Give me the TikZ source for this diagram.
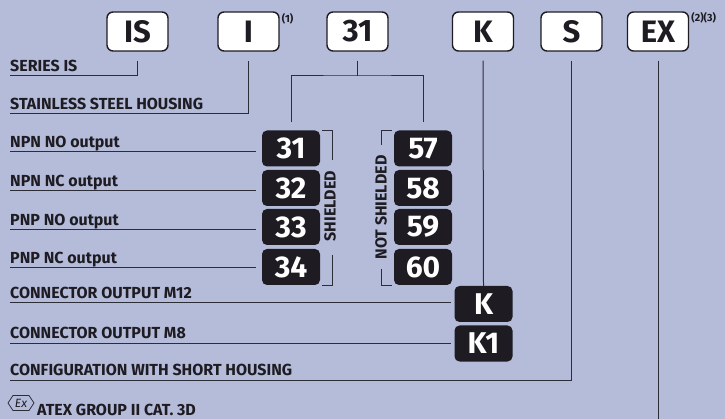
\documentclass[tikz,border=0pt]{standalone}
\usepackage{fontspec}
\setmainfont{Fira Sans}
\definecolor{panel}{RGB}{181,188,218}
\definecolor{ink}{RGB}{30,28,34}
\definecolor{rule}{RGB}{45,45,55}

\begin{document}
\begin{tikzpicture}[x=1pt,y=1pt]
\tikzstyle{every node}+=[inner sep=0pt]
\tikzstyle{topbox}=[draw=ink, line width=1.4pt, fill=white, rounded corners=6pt, minimum width=61pt, minimum height=39pt, font=\fontsize{31}{31}\selectfont\bfseries, text=ink]
\tikzstyle{codebox}=[fill=ink, rounded corners=5pt, minimum width=58pt, minimum height=36pt, font=\fontsize{30}{30}\selectfont\bfseries, text=white]
\tikzstyle{lbl}=[anchor=south west, text depth=4pt, font=\fontsize{16}{16}\selectfont\bfseries, text=ink]
\tikzstyle{side}=[rotate=90, font=\fontsize{16}{16}\selectfont\bfseries, text=ink]
\tikzstyle{note}=[font=\fontsize{10.5}{10.5}\selectfont\bfseries, text=ink]
\tikzstyle{wire}=[draw=rule, line width=1pt]
\fill [panel] (0,0) rectangle (725,-419);
\useasboundingbox (0,0) rectangle (725,-419);
\node [topbox] (tIS) at (137.5,-31.5) {IS};
\node [topbox] (tI) at (248.5,-31.5) {I};
\node [topbox] (t31) at (357.5,-31.5) {31};
\node [topbox] (tK) at (483,-31.5) {K};
\node [topbox] (tS) at (571.5,-31.5) {S};
\node [topbox] (tEX) at (658,-31.5) {EX};
\node [note, anchor=north west] (n1) at ([xshift=2pt,yshift=-2pt]tI.north east) {(1)};
\node [note, anchor=north west] (n23) at ([xshift=2pt,yshift=-0.5pt]tEX.north east) {(2)(3)};
\node [codebox] (c31) at (291,-148.5) {31};
\node [codebox] (c32) at (291,-188) {32};
\node [codebox] (c33) at (291,-227) {33};
\node [codebox] (c34) at (291,-267) {34};
\node [codebox] (c57) at (423,-148.5) {57};
\node [codebox] (c58) at (423,-188) {58};
\node [codebox] (c59) at (423,-227) {59};
\node [codebox] (c60) at (423,-267) {60};
\node [codebox] (cK) at (483.5,-304) {K};
\node [codebox] (cK1) at (483.5,-343.5) {K1};
\node [lbl] (lSeries) at (10,-76) {SERIES IS};
\node [lbl] (lSteel) at (10,-114) {STAINLESS STEEL HOUSING};
\node [lbl] (lNpnNo) at (10,-152) {NPN NO output};
\node [lbl] (lNpnNc) at (10,-191) {NPN NC output};
\node [lbl] (lPnpNo) at (10,-229.5) {PNP NO output};
\node [lbl] (lPnpNc) at (10,-268) {PNP NC output};
\node [lbl] (lM12) at (10,-303) {CONNECTOR OUTPUT M12};
\node [lbl] (lM8) at (10,-343) {CONNECTOR OUTPUT M8};
\node [lbl] (lShort) at (10,-380) {CONFIGURATION WITH SHORT HOUSING};
\node [lbl, anchor=base west] (lAtex) at (37,-415) {ATEX GROUP II CAT. 3D};
\node [font=\fontsize{12}{12}\selectfont\itshape, text=ink] (exmark) at (21,-403) {Ex};
\draw [rule, line width=0.7pt] (8,-403) -- (13,-395.5) -- (29,-395.5) -- (34,-403) -- (29,-410.5) -- (13,-410.5) -- cycle;
\node [side] (shield) at (330,-206) {SHIELDED};
\node [side] (noshield) at (381,-207.5) {NOT SHIELDED};
\draw [wire] (lSeries.south west) -| ([yshift=-9pt]tIS.south);
\draw [wire] (lSteel.south west) -| ([yshift=-9pt]tI.south);
\coordinate (split) at (357.5,-76);
\draw [wire] ([yshift=-9pt]t31.south) -- (split);
\draw [wire] ([yshift=8pt]c31.north) |- (split) -| ([yshift=8pt]c57.north);
\draw [wire, shorten >=6pt] (lNpnNo.south west) -- (lNpnNo.south west -| c31.west);
\draw [wire, shorten >=6pt] (lNpnNc.south west) -- (lNpnNc.south west -| c32.west);
\draw [wire, shorten >=6pt] (lPnpNo.south west) -- (lPnpNo.south west -| c33.west);
\draw [wire, shorten >=6pt] (lPnpNc.south west) -- (lPnpNc.south west -| c34.west);
\draw [wire] ([xshift=2pt]c31.north east) -- ++(10,0) -- ++(0,-30);
\draw [wire] ([xshift=2pt]c34.south east) -- ++(10,0) -- ++(0,30);
\draw [wire] ([xshift=-2pt]c57.north west) -- ++(-10,0) -- ++(0,-15);
\draw [wire] ([xshift=-2pt]c60.south west) -- ++(-10,0) -- ++(0,16);
\draw [wire] ([yshift=-9pt]tK.south) -- (cK.north);
\draw [wire, shorten >=3pt] (lM12.south west) -- (lM12.south west -| cK.west);
\draw [wire, shorten >=3pt] (lM8.south west) -- (lM8.south west -| cK1.west);
\draw [wire] (lShort.south west) -| ([yshift=-9pt]tS.south);
\coordinate (exfoot) at (658,-419);
\draw [wire] ([yshift=-9pt]tEX.south) -- (exfoot);
\end{tikzpicture}
\end{document}
